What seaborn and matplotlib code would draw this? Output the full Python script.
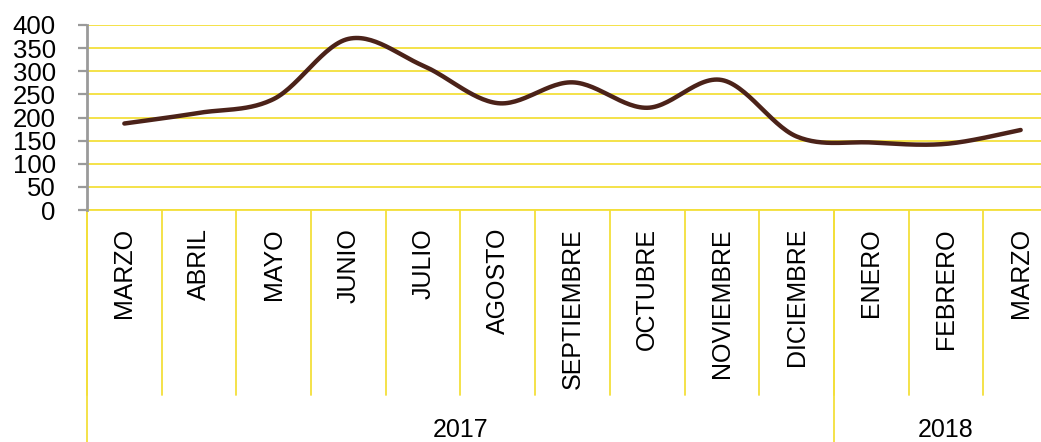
import numpy as np
import pandas as pd
import matplotlib
matplotlib.use("Agg")
import matplotlib.pyplot as plt
import matplotlib.transforms as mtransforms
import seaborn as sns

months = ["MARZO", "ABRIL", "MAYO", "JUNIO", "JULIO", "AGOSTO", "SEPTIEMBRE",
          "OCTUBRE", "NOVIEMBRE", "DICIEMBRE", "ENERO", "FEBRERO", "MARZO"]
years = ["2017", "2018"]
year_counts = [10, 3]
values = [187, 210, 240, 370, 312, 231, 276, 221, 281, 159, 146, 143, 173]
yticks = [0, 50, 100, 150, 200, 250, 300, 350, 400]

sns.set_theme(style="white")
plt.rcParams['font.family'] = ['Liberation Sans', 'DejaVu Sans']

YELLOW = "#F3DF3A"
BROWN = "#4B2219"

fig = plt.figure(figsize=(10.41, 4.42), dpi=100)
W, H = 1041, 442
x0, x1 = 87, 1058
y_top, y_bot = 25, 210
ax = fig.add_axes([x0 / W, 1 - y_bot / H, (x1 - x0) / W, (y_bot - y_top) / H])

# smooth curve (Catmull-Rom through the data points)
x = np.arange(len(values), dtype=float)
y = np.array(values, dtype=float)
px = np.concatenate([[x[0]], x, [x[-1]]])
py = np.concatenate([[y[0]], y, [y[-1]]])
cx, cy = [], []
for i in range(1, len(px) - 2):
    t = np.linspace(0, 1, 30, endpoint=False)
    for arr, out in ((px, cx), (py, cy)):
        p0, p1, p2, p3 = arr[i - 1], arr[i], arr[i + 1], arr[i + 2]
        out.extend(0.5 * ((2 * p1) + (-p0 + p2) * t + (2 * p0 - 5 * p1 + 4 * p2 - p3) * t ** 2
                          + (-p0 + 3 * p1 - 3 * p2 + p3) * t ** 3))
cx.append(x[-1]); cy.append(y[-1])
df = pd.DataFrame({"x": cx, "y": cy})
sns.lineplot(data=df, x="x", y="y", ax=ax, color=BROWN, linewidth=3.2, sort=False,
             solid_capstyle="round", zorder=5)

ax.set_xlim(-0.5, len(months) - 0.5)
ax.set_ylim(0, 400)
ax.set_yticks(yticks)
ax.set_yticklabels([str(v) for v in yticks], fontsize=18.5)
ax.set_xticks([])
ax.set_xlabel("")
ax.set_ylabel("")
for v in yticks:
    ax.axhline(v, color=YELLOW, linewidth=1.3, zorder=1)

for s in ["top", "right"]:
    ax.spines[s].set_visible(False)
ax.spines["bottom"].set_color(YELLOW)
ax.spines["bottom"].set_linewidth(1.3)
ax.spines["left"].set_color("#9A9A9A")
ax.spines["left"].set_linewidth(2.0)
ax.spines["left"].set_zorder(6)
ax.tick_params(axis="y", which="both", left=True, length=6.5, width=1.6,
               color="#9A9A9A", pad=16, labelcolor="black", direction="out")

trans = mtransforms.blended_transform_factory(ax.transData, ax.transAxes)
ah = y_bot - y_top
# month separators
for k in range(len(months) + 1):
    ax.plot([k - 0.5, k - 0.5], [0, -(395 - y_bot) / ah], transform=trans, color=YELLOW,
            linewidth=1.3, clip_on=False)
# group separators
b = 0
bounds = [0]
for c in year_counts:
    b += c
    bounds.append(b)
for bd in bounds:
    ax.plot([bd - 0.5, bd - 0.5], [0, -(442 - y_bot) / ah], transform=trans, color=YELLOW,
            linewidth=1.3, clip_on=False)

for i, m in enumerate(months):
    ax.text(i, -(228 - y_bot) / ah, m, transform=trans, rotation=90, ha="center", va="top",
            fontsize=18, color="black")
for j, yr in enumerate(years):
    c = (bounds[j] + bounds[j + 1] - 1) / 2
    ax.text(c, -(430 - y_bot) / ah, yr, transform=trans, ha="center", va="center",
            fontsize=18, color="black")

fig.savefig("out.png", dpi=100)
